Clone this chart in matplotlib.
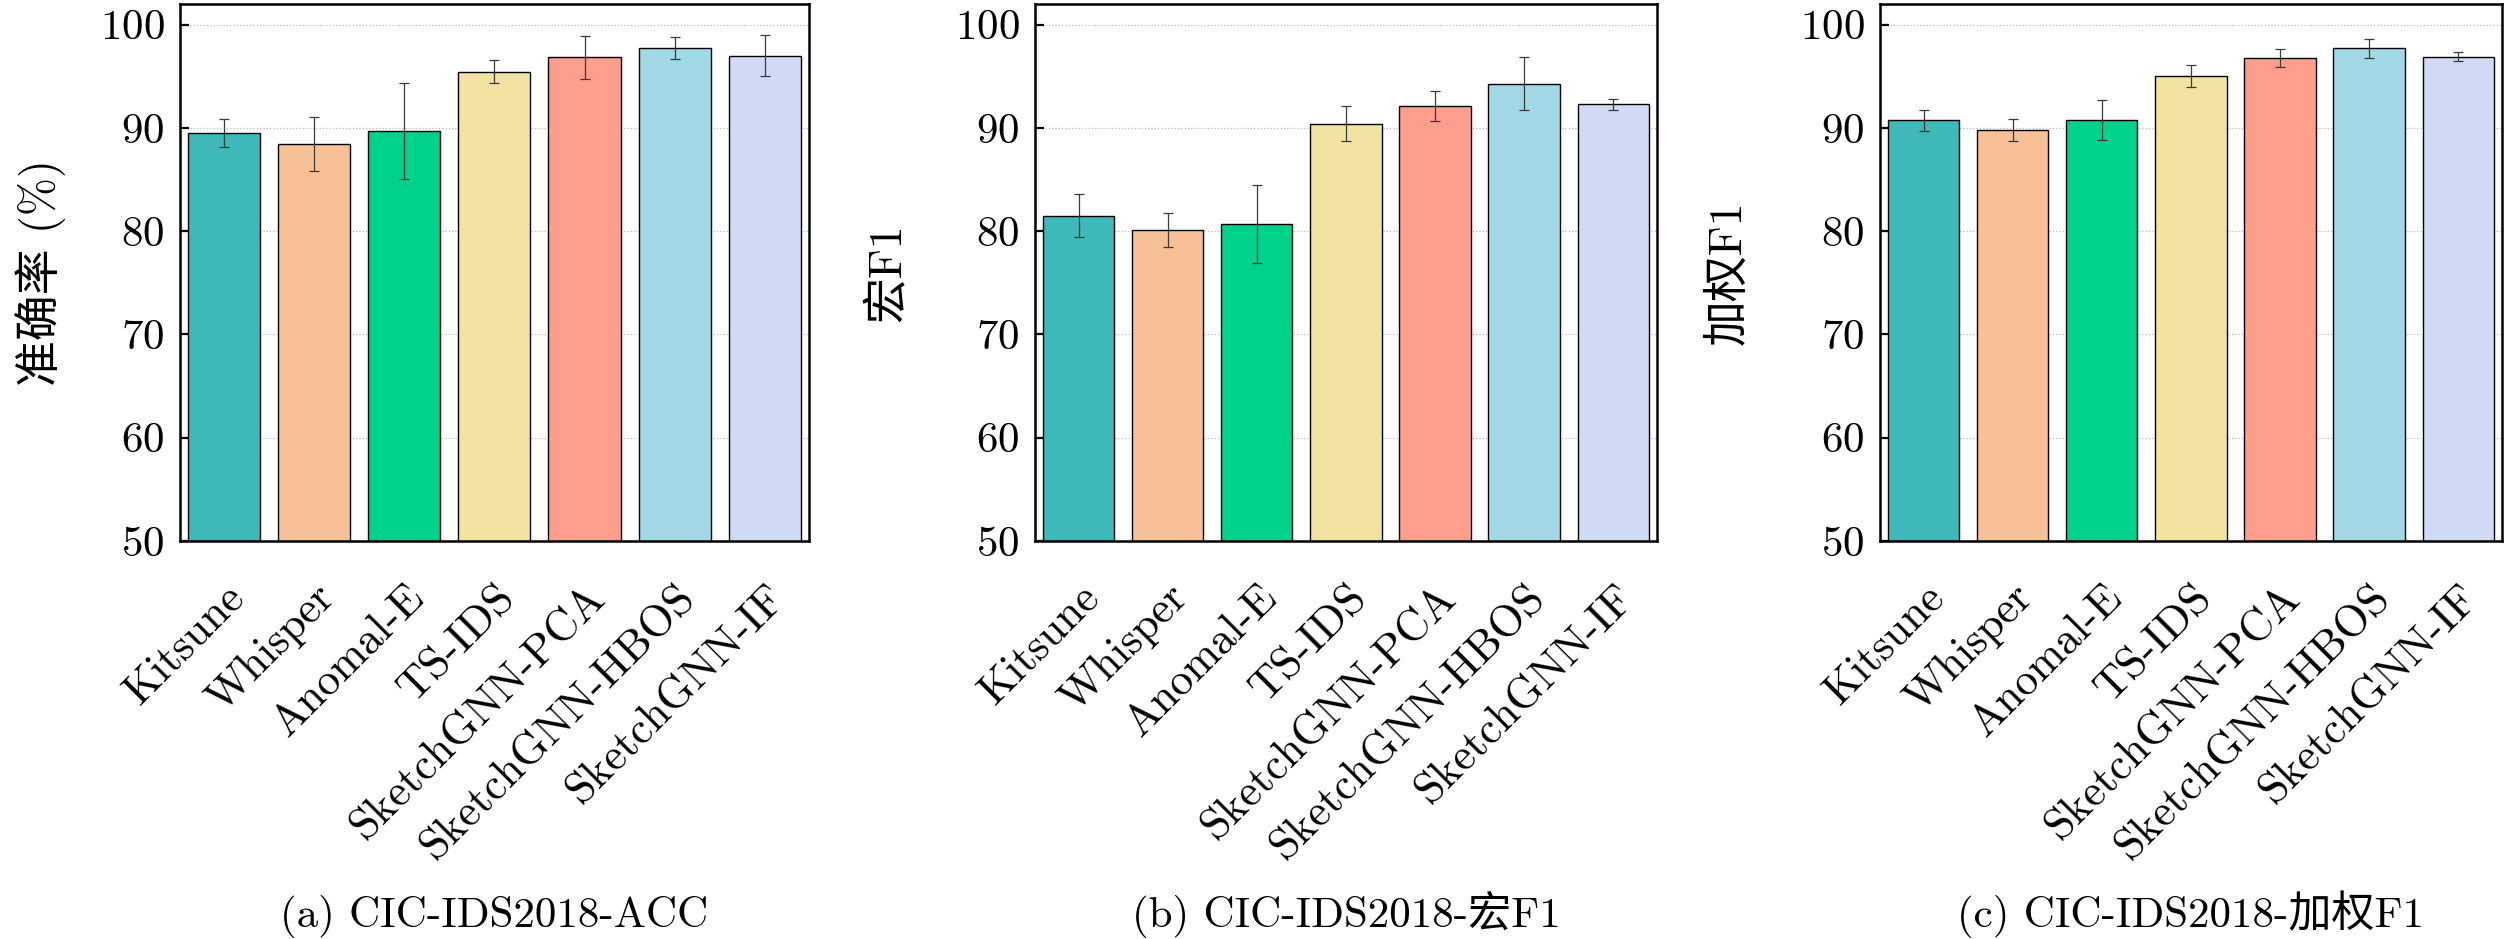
import numpy as np
import matplotlib
matplotlib.use("Agg")
import matplotlib.pyplot as plt

plt.rcParams['font.family'] = ['cmr10', 'Noto Sans CJK SC', 'DejaVu Sans']
plt.rcParams['axes.formatter.use_mathtext'] = True
plt.rcParams['axes.unicode_minus'] = False

methods = ['Kitsune', 'Whisper', 'Anomal-E', 'TS-IDS',
           'SketchGNN-PCA', 'SketchGNN-HBOS', 'SketchGNN-IF']
colors = ['#3EB8B8', '#F7C096', '#00D28C', '#F3E3A3',
          '#FE9E8C', '#A2D8E6', '#D0DAF5']

# accuracy (%)
acc = [89.5, 88.45, 89.75, 95.45, 96.85, 97.75, 97.0]
acc_err = [1.35, 2.6, 4.65, 1.1, 2.1, 1.1, 2.0]
# macro F1
macro_f1 = [81.5, 80.1, 80.7, 90.4, 92.1, 94.3, 92.3]
macro_f1_err = [2.1, 1.65, 3.8, 1.7, 1.45, 2.55, 0.55]
# weighted F1
weighted_f1 = [90.75, 89.8, 90.75, 95.0, 96.75, 97.7, 96.9]
weighted_f1_err = [1.0, 1.05, 1.95, 1.05, 0.85, 0.95, 0.45]

panels = [
    (acc, acc_err, '准确率 (%)', '(a) CIC-IDS2018-ACC'),
    (macro_f1, macro_f1_err, '宏F1', '(b) CIC-IDS2018-宏F1'),
    (weighted_f1, weighted_f1_err, '加权F1', '(c) CIC-IDS2018-加权F1'),
]

# axes boxes in figure fractions
lefts = [0.0714, 0.4107, 0.7460]
widths = [0.2496, 0.2468, 0.2468]
label_x = [-0.181, -0.201, -0.209]

fig = plt.figure(figsize=(25.2, 9.39), dpi=100)

for i, (vals, errs, ylab, caption) in enumerate(panels):
    ax = fig.add_axes([lefts[i], 0.4239, widths[i], 0.5718])
    x = np.arange(len(methods))
    ax.bar(x, vals, width=0.8, color=colors, edgecolor='black',
           linewidth=1.0, zorder=2)
    ax.errorbar(x, vals, yerr=errs, fmt='none', ecolor='#3a3a3a',
                elinewidth=0.9, capsize=3.6, capthick=0.9, zorder=3)

    ax.set_ylim(50, 102)
    ax.set_xlim(-0.49, len(methods) - 0.51)
    ax.set_yticks([50, 60, 70, 80, 90, 100])
    ax.set_xticks(x)
    ax.set_xticklabels(methods, rotation=45, ha='right',
                       rotation_mode='anchor', fontsize=32)
    ax.tick_params(axis='y', direction='in', length=6.5, width=1.6,
                   labelsize=31, pad=11)
    ax.tick_params(axis='x', direction='in', length=5, width=1.6, pad=26)
    ax.yaxis.grid(True, linestyle=':', color='#bbbbbb', linewidth=0.9,
                  zorder=0)
    ax.set_axisbelow(True)
    for s in ax.spines.values():
        s.set_linewidth(1.8)

    ax.set_ylabel(ylab, fontsize=33)
    ax.yaxis.set_label_coords(label_x[i], 0.5)

    fig.text(lefts[i] + widths[i] / 2, 0.013, caption, ha='center',
             va='baseline', fontsize=31)

fig.savefig('out.png', dpi=100)
